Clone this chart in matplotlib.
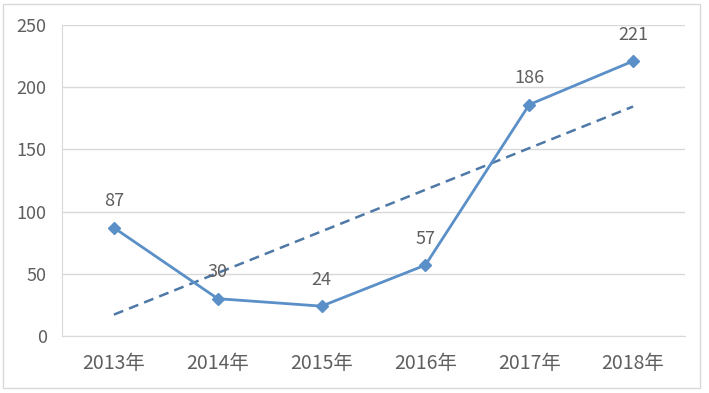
import matplotlib.pyplot as plt
import numpy as np
from matplotlib.patches import Rectangle

plt.rcParams['font.family'] = ['Noto Sans CJK SC', 'DejaVu Sans']

years = ['2013年', '2014年', '2015年', '2016年', '2017年', '2018年']
counts = [87, 30, 24, 57, 186, 221]
yticks = [0, 50, 100, 150, 200, 250]

txt_color = '#5f5f5f'
line_color = '#5B8FC7'
trend_color = '#4E79A7'

fig = plt.figure(figsize=(7.09, 3.93), dpi=100)
ax = fig.add_axes([62 / 709, 57 / 393, 623 / 709, 311 / 393])

x = np.arange(len(years))
ax.plot(x, counts, color=line_color, lw=2.0, marker='D', ms=6,
        markerfacecolor=line_color, markeredgecolor=line_color, zorder=3)

# linear trend line
k, b = np.polyfit(x, counts, 1)
ax.plot(x, k * x + b, color=trend_color, lw=1.8, ls=(0, (4, 2.5)), zorder=2)

for xi, v in zip(x, counts):
    ax.annotate(str(v), (xi, v), xytext=(0, 19), textcoords='offset points',
                ha='center', va='center', fontsize=13, color=txt_color)

ax.set_xlim(-0.5, len(years) - 0.5)
ax.set_ylim(0, 250)
ax.set_yticks(yticks)
ax.set_xticks(x)
ax.set_xticklabels(years)
ax.grid(axis='y', color='#D9D9D9', lw=1)
ax.set_axisbelow(True)
for s in ['top', 'right']:
    ax.spines[s].set_visible(False)
ax.spines['left'].set_color('#D9D9D9')
ax.spines['bottom'].set_color('#D9D9D9')
ax.tick_params(length=0, colors=txt_color, labelsize=13)
ax.tick_params(axis='x', pad=12, labelsize=14)
ax.tick_params(axis='y', pad=11)

fig.patches.append(Rectangle((3 / 709, 5 / 393), 697 / 709, 384 / 393,
                             transform=fig.transFigure, fill=False,
                             edgecolor='#D9D9D9', lw=1))

fig.savefig('out.png', dpi=100)
